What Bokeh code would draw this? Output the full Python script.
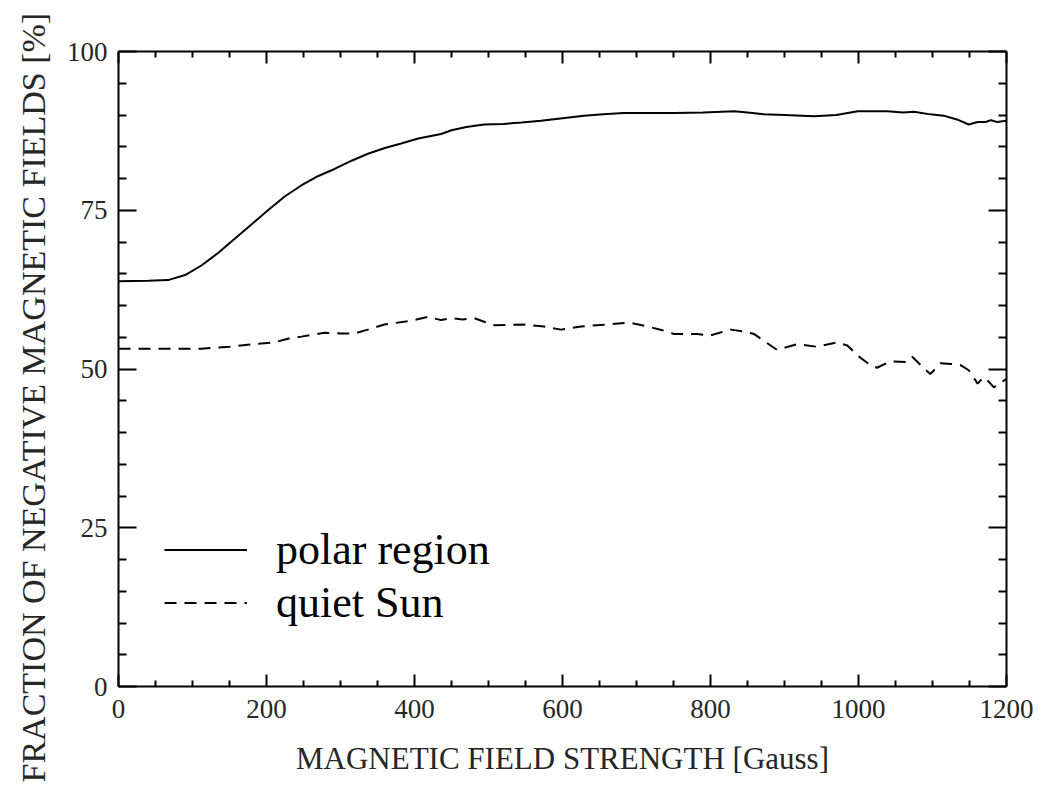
from bokeh.plotting import figure
from bokeh.models import (LinearAxis, FixedTicker, Range1d, Legend, LegendItem,
                          CustomJSTickFormatter, Title)
from bokeh.embed import file_html
from bokeh.resources import INLINE

# ---- data ----
polar_x = [0, 40, 67, 90, 112, 135, 157, 180, 202, 225, 247, 270, 292, 315, 337, 360,
           382, 405, 436, 450, 470, 494, 520, 545, 571, 600, 629, 655, 683, 720, 751,
           790, 832, 850, 872, 900, 940, 970, 999, 1020, 1039, 1060, 1075, 1097, 1115,
           1133, 1149, 1161, 1172, 1179, 1187, 1200]
polar_y = [63.8, 63.9, 64.0, 64.8, 66.3, 68.3, 70.5, 72.8, 75.0, 77.2, 78.9, 80.4, 81.5,
           82.8, 83.9, 84.8, 85.5, 86.3, 87.0, 87.6, 88.1, 88.5, 88.6, 88.8, 89.1, 89.5,
           89.9, 90.1, 90.3, 90.3, 90.3, 90.4, 90.6, 90.4, 90.1, 90.0, 89.8, 90.0, 90.6,
           90.6, 90.6, 90.4, 90.5, 90.1, 89.9, 89.3, 88.5, 88.9, 88.9, 89.2, 88.9, 89.1]

quiet_x = [0, 60, 112, 150, 180, 211, 230, 247, 278, 300, 319, 340, 359, 395, 418, 436,
           450, 465, 481, 495, 508, 548, 575, 598, 625, 661, 690, 715, 735, 751, 782,
           800, 827, 845, 859, 875, 890, 917, 944, 971, 985, 1000, 1016, 1025, 1043,
           1066, 1073, 1085, 1097, 1111, 1125, 1138, 1149, 1161, 1169, 1176, 1183, 1190, 1200]
quiet_y = [53.2, 53.2, 53.2, 53.5, 53.9, 54.2, 54.8, 55.1, 55.7, 55.6, 55.6, 56.3, 57.0,
           57.6, 58.2, 57.7, 58.0, 57.8, 58.0, 57.4, 56.9, 57.0, 56.7, 56.2, 56.7, 57.0,
           57.3, 56.7, 56.1, 55.5, 55.5, 55.3, 56.2, 55.9, 55.5, 54.2, 53.0, 53.9, 53.5,
           54.2, 53.7, 52.0, 50.6, 50.2, 51.2, 51.1, 51.9, 50.5, 49.2, 50.9, 50.8, 50.6,
           49.8, 47.7, 48.7, 48.0, 47.1, 47.8, 48.4]

x_ticks = [0, 200, 400, 600, 800, 1000, 1200]
y_ticks = [0, 25, 50, 75, 100]
x_label = "MAGNETIC FIELD STRENGTH [Gauss]"
y_label = "FRACTION OF NEGATIVE MAGNETIC FIELDS [%]"
series_names = ["polar region", "quiet Sun"]

FONT = "Liberation Serif"
TXT = "#262626"

p = figure(width=1041, height=785, output_backend="svg", toolbar_location=None,
           x_range=Range1d(0, 1200), y_range=Range1d(0, 100),
           x_axis_location=None, y_axis_location=None,
           min_border_left=117, min_border_right=35, min_border_top=51,
           min_border_bottom=99)
p.grid.visible = False
p.outline_line_color = None
p.background_fill_color = "white"
p.border_fill_color = "white"


def minor_of(ticks, n):
    out = []
    step = (ticks[1] - ticks[0]) / n
    for a in ticks[:-1]:
        for k in range(1, n):
            out.append(a + k * step)
    return out


def style_axis(ax, ticks, minor_n, major_len, minor_len, show_labels):
    ax.ticker = FixedTicker(ticks=ticks, minor_ticks=minor_of(ticks, minor_n))
    ax.axis_line_width = 2
    ax.axis_line_color = "black"
    ax.major_tick_line_width = 2
    ax.minor_tick_line_width = 2
    ax.major_tick_in = major_len
    ax.major_tick_out = 0
    ax.minor_tick_in = minor_len
    ax.minor_tick_out = 0
    ax.major_label_text_font = FONT
    ax.major_label_text_color = TXT
    ax.major_label_text_font_size = "27px"
    if not show_labels:
        ax.formatter = CustomJSTickFormatter(code="return ''")
        ax.major_label_standoff = 0
    ax.axis_label_text_font = FONT
    ax.axis_label_text_color = TXT
    ax.axis_label_text_font_style = "normal"
    ax.axis_label_text_font_size = "31px"


xb = LinearAxis()
style_axis(xb, x_ticks, 4, 12, 6, True)
xb.major_label_standoff = 13
xb.axis_label = x_label
xb.axis_label_standoff = 20
p.add_layout(xb, "below")

xt = LinearAxis()
style_axis(xt, x_ticks, 4, 12, 6, False)
p.add_layout(xt, "above")

yl = LinearAxis()
style_axis(yl, y_ticks, 5, 18, 8, True)
yl.major_label_standoff = 11
p.add_layout(yl, "left")

yr = LinearAxis()
style_axis(yr, y_ticks, 5, 18, 8, False)
p.add_layout(yr, "right")

ytitle = Title(text=y_label, align="left", offset=-96, standoff=24,
               text_font=FONT, text_font_size="34px", text_font_style="normal",
               text_color=TXT)
p.add_layout(ytitle, "left")

r1 = p.line(polar_x, polar_y, line_color="black", line_width=2)
r2 = p.line(quiet_x, quiet_y, line_color="black", line_width=2, line_dash="12 8")

legend = Legend(items=[LegendItem(label=series_names[0], renderers=[r1]),
                       LegendItem(label=series_names[1], renderers=[r2])],
                location=(46, 57), orientation="vertical")
legend.background_fill_alpha = 0
legend.border_line_alpha = 0
legend.padding = 0
legend.margin = 0
legend.spacing = 0
legend.glyph_width = 83
legend.glyph_height = 53
legend.label_height = 53
legend.label_standoff = 29
legend.label_text_font = FONT
legend.label_text_font_size = "44px"
legend.label_text_color = "black"
p.add_layout(legend, "center")

open("out.html", "w").write(file_html(p, INLINE))
